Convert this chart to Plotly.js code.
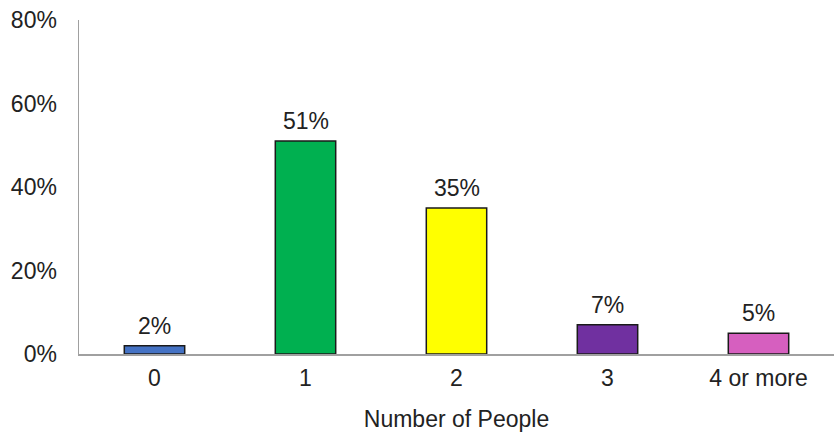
<!DOCTYPE html>
<html>
<head>
<meta charset="utf-8">
<script src="https://cdn.plot.ly/plotly-3.0.1.min.js"></script>
<style>html,body{margin:0;padding:0;background:#fff;}#chart{width:834px;height:434px;}</style>
</head>
<body>
<div id="chart"></div>
<script>
const categories = ["0", "1", "2", "3", "4 or more"];
const values = [2, 51, 35, 7, 5];
const barColors = ["#4472C4", "#00B050", "#FFFF00", "#7030A0", "#D65FBF"];
const yTickVals = [0, 20, 40, 60, 80];
const yTickText = ["0%", "20%", "40%", "60%", "80%"];
const xTitle = "Number of People";

const fontFamily = '"Liberation Sans", Arial, sans-serif';
const fs = 23;

const trace = {
  type: 'bar',
  x: categories,
  y: values,
  marker: { color: barColors, line: { color: '#1a1a1a', width: 1.5 } },
  hoverinfo: 'none'
};

const annotations = categories.map((c, i) => ({
  x: c, y: values[i], text: values[i] + '%',
  showarrow: false, yanchor: 'bottom', yshift: 5,
  font: { family: fontFamily, size: fs, color: '#222' }
}));

const layout = {
  width: 834, height: 434,
  margin: { l: 79, r: 0, t: 20, b: 80 },
  paper_bgcolor: '#fff', plot_bgcolor: '#fff',
  showlegend: false,
  bargap: 0.6,
  font: { family: fontFamily, size: fs, color: '#222' },
  xaxis: {
    type: 'category',
    showline: true, linecolor: '#a0a0a0', linewidth: 1.5,
    showgrid: false, zeroline: false, ticks: '',
    ticklabelstandoff: 3,
    tickfont: { family: fontFamily, size: fs, color: '#222' },
    title: { text: xTitle, font: { family: fontFamily, size: fs, color: '#222' }, standoff: 21 }
  },
  yaxis: {
    range: [0, 80],
    tickvals: yTickVals, ticktext: yTickText,
    showline: true, linecolor: '#a0a0a0', linewidth: 1.5,
    showgrid: false, zeroline: false, ticks: '',
    ticklabelstandoff: 16,
    tickfont: { family: fontFamily, size: fs, color: '#222' }
  },
  annotations: annotations
};

Plotly.newPlot('chart', [trace], layout, { displayModeBar: false, staticPlot: true });
</script>
</body>
</html>
